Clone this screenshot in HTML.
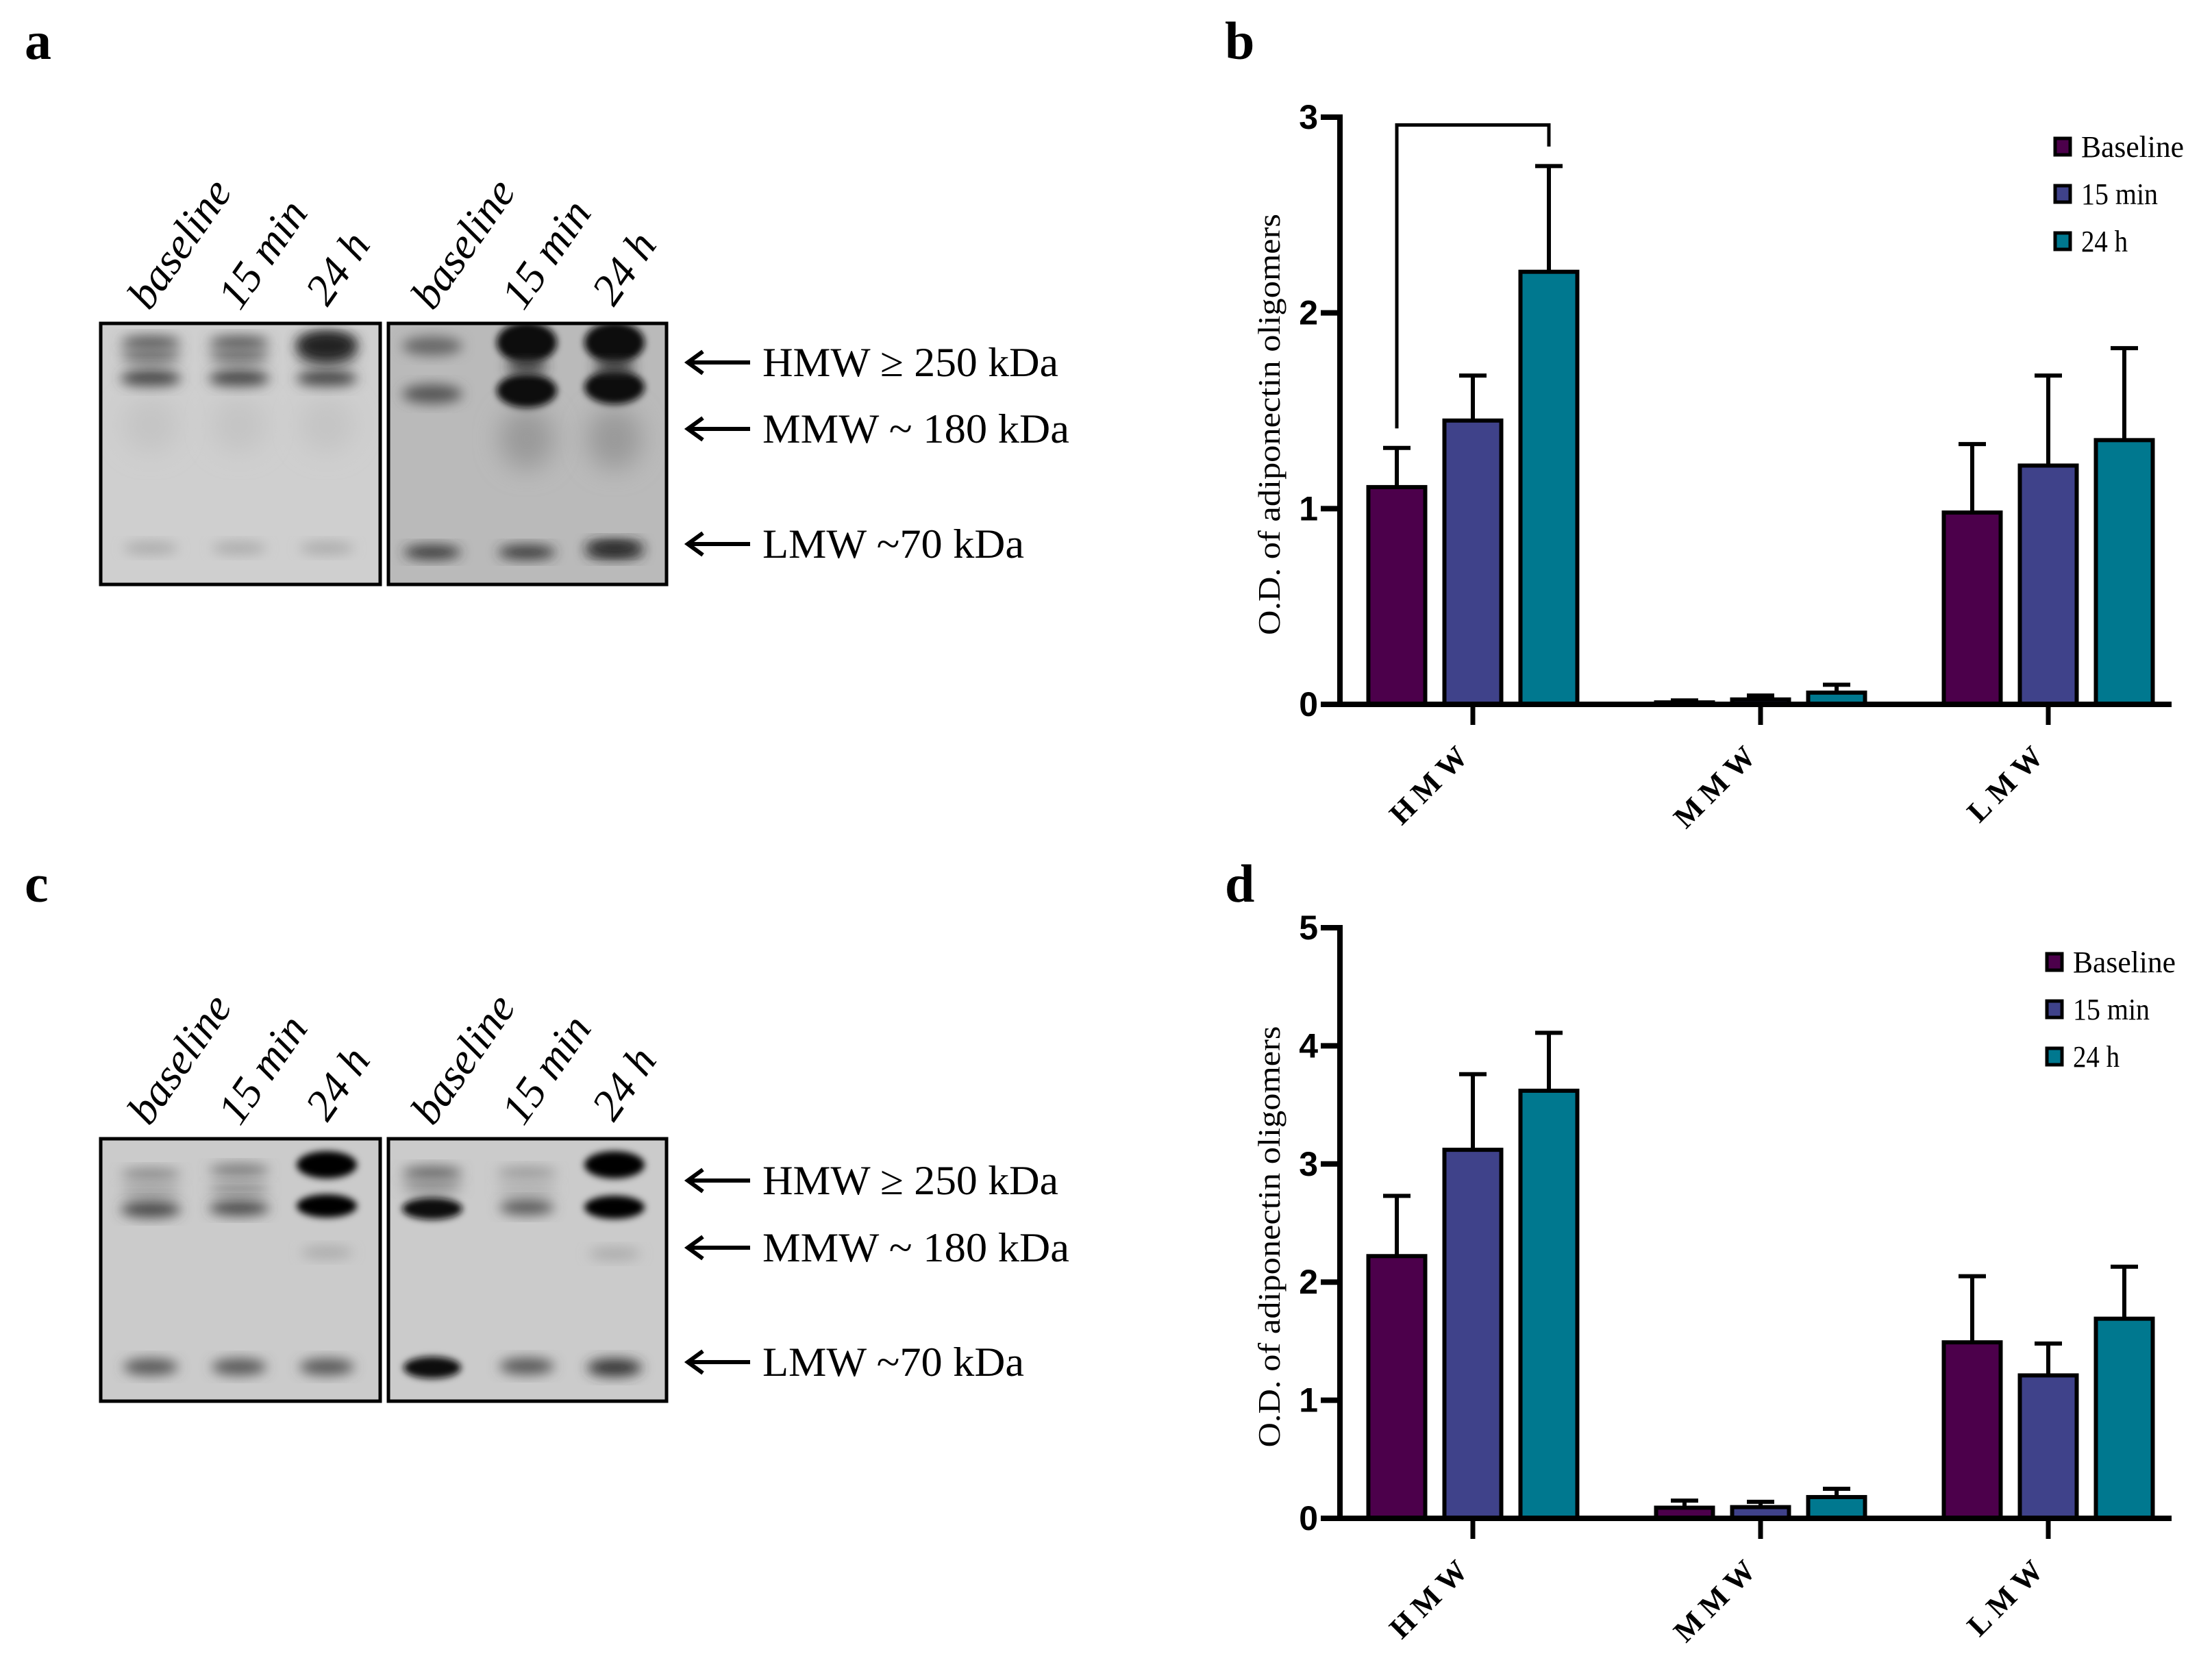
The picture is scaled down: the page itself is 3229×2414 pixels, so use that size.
<!DOCTYPE html>
<html><head><meta charset="utf-8"><style>
html,body{margin:0;padding:0;background:#fff;}
svg{display:block;}
text{font-family:"Liberation Serif",serif;}
</style></head>
<body>
<svg id="fig" xmlns="http://www.w3.org/2000/svg" width="3229" height="2414" viewBox="0 0 3229 2414">
<defs>
<filter id="blur1" x="-50%" y="-50%" width="200%" height="200%"><feGaussianBlur stdDeviation="9"/></filter>
<filter id="blur2" x="-50%" y="-50%" width="200%" height="200%"><feGaussianBlur stdDeviation="5"/></filter>
<filter id="blur3" x="-50%" y="-50%" width="200%" height="200%"><feGaussianBlur stdDeviation="18"/></filter>
<clipPath id="cpA1"><rect x="147" y="472" width="408" height="381"/></clipPath>
<clipPath id="cpA2"><rect x="567" y="472" width="406" height="381"/></clipPath>
<clipPath id="cpC1"><rect x="147" y="1662" width="408" height="383"/></clipPath>
<clipPath id="cpC2"><rect x="567" y="1662" width="406" height="383"/></clipPath>
</defs>
<text x="36" y="86" font-size="78" font-weight="bold">a</text>
<text x="1788" y="86" font-size="78" font-weight="bold">b</text>
<text x="36" y="1316" font-size="78" font-weight="bold">c</text>
<text x="1788" y="1316" font-size="78" font-weight="bold">d</text>
<g id="blots"></g>
<g id="chartB"></g>
<g id="chartD"></g>
</svg>
<script>
const NS="http://www.w3.org/2000/svg";
function mk(parent,tag,attrs,txt){const e=document.createElementNS(NS,tag);for(const k in attrs)e.setAttribute(k,attrs[k]);if(txt!==undefined)e.textContent=txt;parent.appendChild(e);return e;}

// ---------- chart data ----------
const categories=["HMW","MMW","LMW"];
const seriesNames=["Baseline","15 min","24 h"];
const seriesColors=["#4c004b","#3f428a","#00788f"];
const yTicksB=[0,1,2,3];
const yTicksD=[0,1,2,3,4,5];
const baselineB=[1.11,0.01,0.98];
const min15B=[1.45,0.025,1.22];
const h24B=[2.21,0.06,1.35];
const baselineErrB=[1.31,0.02,1.33];
const min15ErrB=[1.68,0.045,1.68];
const h24ErrB=[2.75,0.10,1.82];
const baselineD=[2.22,0.09,1.49];
const min15D=[3.12,0.095,1.21];
const h24D=[3.62,0.18,1.69];
const baselineErrD=[2.73,0.15,2.05];
const min15ErrD=[3.76,0.14,1.48];
const h24ErrD=[4.11,0.25,2.13];
const bracketB=[2.96,1.41,2.85];

function drawChart(g,id,y0,yTop,ymax,ticks,vals,errs,legendX,legendY,bracket){
  const ax=1956, xEnd=3170;
  const yS=v=>y0-(v/ymax)*(y0-yTop);
  const groupX=i=>2150+i*420;
  const barW=83, pitch=111;
  for(let s=0;s<3;s++){
    for(let c=0;c<3;c++){
      const cx=groupX(c)+(s-1)*pitch;
      const v=vals[s][c], e=errs[s][c];
      const ln=mk(g,"line",{x1:cx,y1:yS(v),x2:cx,y2:yS(e),stroke:"#000","stroke-width":6});
      
      
      const cap=mk(g,"line",{x1:cx-20,y1:yS(e),x2:cx+20,y2:yS(e),stroke:"#000","stroke-width":6});
      
      
      const r=mk(g,"rect",{x:cx-barW/2,y:yS(v),width:barW,height:y0-yS(v),fill:seriesColors[s],stroke:"#000","stroke-width":6});
      
      
    }
  }
  const ya=mk(g,"line",{x1:ax,y1:yTop-4,x2:ax,y2:y0+4,stroke:"#000","stroke-width":8});
  
  
  const xa=mk(g,"line",{x1:ax-4,y1:y0,x2:xEnd,y2:y0,stroke:"#000","stroke-width":8});
  
  
  ticks.forEach(t=>{
    const tk=mk(g,"line",{x1:ax-28,y1:yS(t),x2:ax,y2:yS(t),stroke:"#000","stroke-width":8});
    
    
    const tl=mk(g,"text",{x:1924,y:yS(t)+17,"text-anchor":"end","font-size":50,"font-weight":"bold",style:"font-family:'Liberation Sans',sans-serif"},String(t));
    
    
  });
  categories.forEach((c,i)=>{
    const x=groupX(i);
    const tk=mk(g,"line",{x1:x,y1:y0,x2:x,y2:y0+30,stroke:"#000","stroke-width":7});
    
    
    const lx=x+2, ly=y0+72;
    const tl=mk(g,"text",{x:lx,y:ly,"text-anchor":"end","font-size":44,"font-weight":"bold",transform:`rotate(-45 ${lx} ${ly})`,"letter-spacing":"10"},c);
    
    
  });
  const cy=(yTop+y0)/2+20;
  const yt=mk(g,"text",{x:1868,y:cy,"text-anchor":"middle","font-size":46,transform:`rotate(-90 1868 ${cy})`,textLength:"615",lengthAdjust:"spacingAndGlyphs"},"O.D. of adiponectin oligomers");
  
  
  seriesNames.forEach((n,i)=>{
    const yy=legendY+i*69;
    const sq=mk(g,"rect",{x:legendX,y:yy-12,width:22,height:24,fill:seriesColors[i],stroke:"#000","stroke-width":5});
    
    
    const t=mk(g,"text",{x:legendX+38,y:yy+15,"font-size":44,textLength:[150,112,68][i],lengthAdjust:"spacingAndGlyphs"},n);
    
    
  });
  if(bracket){
    const xl=groupX(0)-pitch, xr=groupX(0)+pitch;
    const br=mk(g,"polyline",{points:`${xl},${yS(bracket[1])} ${xl},${yS(bracket[0])} ${xr},${yS(bracket[0])} ${xr},${yS(bracket[2])}`,fill:"none",stroke:"#000","stroke-width":5});
    
    
  }
}
drawChart(document.getElementById('chartB'),'b',1028,171,3,yTicksB,[baselineB,min15B,h24B],[baselineErrB,min15ErrB,h24ErrB],3000,214,bracketB);
drawChart(document.getElementById('chartD'),'d',2216,1354,5,yTicksD,[baselineD,min15D,h24D],[baselineErrD,min15ErrD,h24ErrD],2988,1404,null);

// ---------- blots ----------
const B=document.getElementById('blots');
function panel(x,y,w,h,bg,clip,bands,name){
  const g=mk(B,"g",{"clip-path":`url(#${clip})`});
  
  
  mk(g,"rect",{x:x,y:y,width:w,height:h,fill:bg});
  bands.forEach(b=>{mk(g,"ellipse",{cx:b[0],cy:b[1],rx:b[2],ry:b[3],fill:b[4],filter:"url(#"+(b[5]||"blur1")+")"});});
  const f=mk(B,"rect",{x:x,y:y,width:w,height:h,fill:"none",stroke:"#000","stroke-width":5});
  
  
}
const L1=[220,349,477], L2=[631,769,897];
panel(147,472,408,381,"#cfcfcf","cpA1",[
 ...L1.map(x=>[x,500,44,10,"#555"]),...L1.map(x=>[x,520,44,10,"#666"]),...L1.map(x=>[x,552,44,13,"#444"]),
 [L1[2],505,44,22,"#222"],
 ...L1.map(x=>[x,620,40,40,"#c4c4c4","blur3"]),
 ...L1.map(x=>[x,800,40,9,"#aaa"])
],"blot-a-left");
panel(567,472,406,381,"#bababa","cpA2",[
 [L2[0],505,44,14,"#666"],[L2[0],575,44,14,"#555"],
 [L2[1],640,40,45,"#9a9a9a","blur3"],[L2[2],640,40,45,"#9a9a9a","blur3"],
 [L2[1],500,44,30,"#111","blur2"],[L2[2],500,44,30,"#111","blur2"],
 [L2[1],570,44,25,"#111","blur2"],[L2[2],565,44,25,"#111","blur2"],
 [L2[1],535,30,10,"#333"],[L2[2],535,30,10,"#333"],
 ...L2.map(x=>[x,806,42,10,"#333"]),[L2[2],798,42,10,"#222"]
],"blot-a-right");
panel(147,1662,408,383,"#cbcbcb","cpC1",[
 [L1[0],1714,44,9,"#888"],[L1[0],1738,44,9,"#999"],[L1[0],1765,44,12,"#444"],
 [L1[1],1708,44,9,"#777"],[L1[1],1735,44,9,"#888"],[L1[1],1763,44,11,"#444"],
 [L1[2],1700,44,20,"#000","blur2"],[L1[2],1760,44,17,"#000","blur2"],
 [L1[2],1828,38,9,"#aaa"],
 ...L1.map(x=>[x,1995,40,12,"#555"])
],"blot-c-left");
panel(567,1662,406,383,"#cbcbcb","cpC2",[
 [L2[0],1712,44,10,"#666"],[L2[0],1732,44,9,"#888"],[L2[0],1764,44,16,"#111","blur2"],
 [L2[1],1712,44,9,"#999"],[L2[1],1735,44,9,"#aaa"],[L2[1],1762,40,11,"#555"],
 [L2[2],1700,44,20,"#000","blur2"],[L2[2],1762,44,17,"#000","blur2"],
 [L2[2],1830,38,9,"#aaa"],
 [L2[0],1996,42,16,"#111","blur2"],[L2[1],1994,40,12,"#555"],[L2[2],1996,40,13,"#333"]
],"blot-c-right");

const laneNames=["baseline","15 min","24 h","baseline","15 min","24 h"];
const laneX=[218,350,478,632,764,896];
[[455,'a'],[1645,'c']].forEach(([yy,p])=>{
  laneX.forEach((x,i)=>{
    const y=yy-(i%3===2?6:0);
    const t=mk(B,"text",{x:x,y:y,"font-size":64,"font-style":"italic",transform:`rotate(-55 ${x} ${y})`},laneNames[i]);
    
    
  });
});
const markerNames=["HMW \u2265 250 kDa","MMW ~ 180 kDa","LMW ~70 kDa"];
const markerLens=[432,448,382];
[[529,626,794],[1723,1821,1988]].forEach((ys,pi)=>{
  ys.forEach((y,i)=>{
    const a=mk(B,"line",{x1:1008,y1:y,x2:1095,y2:y,stroke:"#000","stroke-width":6});
    
    
    const h=mk(B,"polyline",{points:`1026,${y-16} 1004,${y} 1026,${y+16}`,fill:"none",stroke:"#000","stroke-width":6});
    
    
    const t=mk(B,"text",{x:1113,y:y+20,"font-size":60,textLength:markerLens[i],lengthAdjust:"spacingAndGlyphs"},markerNames[i]);
    
    
  });
});
</script>
</body></html>
